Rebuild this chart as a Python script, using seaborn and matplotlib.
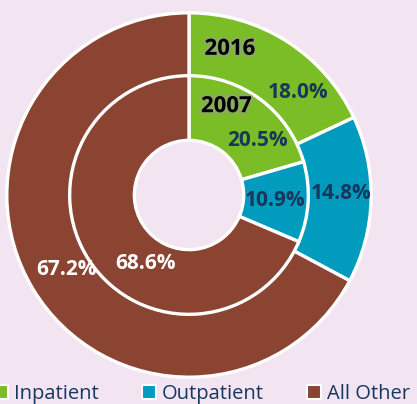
import matplotlib
matplotlib.use("Agg")
import matplotlib.pyplot as plt
import matplotlib.patheffects as pe
from matplotlib.patches import Patch
import seaborn as sns

categories = ["Inpatient", "Outpatient", "All Other"]
share_2016 = [18.0, 14.8, 67.2]
share_2007 = [20.5, 10.9, 68.6]
years = ["2016", "2007"]

colors = ["#7bbd26", "#009bbd", "#8b4332"]
bg = "#f2e4f1"
navy = "#17375e"

sns.set_theme(style="white")
plt.rcParams["font.family"] = ["Open Sans", "DejaVu Sans"]

fig = plt.figure(figsize=(4.17, 4.04), dpi=100, facecolor=bg)
ax = fig.add_axes([5 / 417, 25 / 404, 368 / 417, 368 / 404])
ax.set_facecolor(bg)

wp = dict(edgecolor="white", linewidth=2.4)
ax.pie(share_2016, radius=1.0, colors=colors, startangle=90, counterclock=False,
       wedgeprops=dict(width=0.35, **wp))
ax.pie(share_2007, radius=0.655, colors=colors, startangle=90, counterclock=False,
       wedgeprops=dict(width=0.355, **wp))
ax.set_xlim(-1.01, 1.01)
ax.set_ylim(-1.01, 1.01)
ax.set_aspect("equal")
ax.axis("off")

# percentage labels (positions in radius units)
outer_pos = [(0.60, 0.565), (0.835, 0.01), (-0.67, -0.41)]
inner_pos = [(0.375, 0.30), (0.47, -0.03), (-0.24, -0.375)]
label_cols = [navy, navy, "white"]
for vals, pos in ((share_2016, outer_pos), (share_2007, inner_pos)):
    for v, (x, y), c in zip(vals, pos, label_cols):
        ax.text(x, y, f"{v:.1f}%", ha="center", va="center", fontsize=15,
                fontweight="bold", color=c)

glow = [pe.withStroke(linewidth=3, foreground="#9a9a9a", alpha=0.5)]
for yr, (x, y) in zip(years, [(0.225, 0.80), (0.205, 0.485)]):
    ax.text(x, y, yr, ha="center", va="center", fontsize=16,
            fontweight="bold", color="black", path_effects=glow)

handles = [Patch(facecolor=c, edgecolor="white", linewidth=1.5) for c in colors]
leg = fig.legend(handles, categories, loc="lower left", ncol=3,
                 bbox_to_anchor=(-0.035, -0.02), frameon=False, fontsize=14.5,
                 handlelength=0.7, handleheight=0.7, handletextpad=0.3,
                 columnspacing=2.15, borderaxespad=0)
for t in leg.get_texts():
    t.set_color(navy)

fig.savefig("out.png", dpi=100, facecolor=bg)
